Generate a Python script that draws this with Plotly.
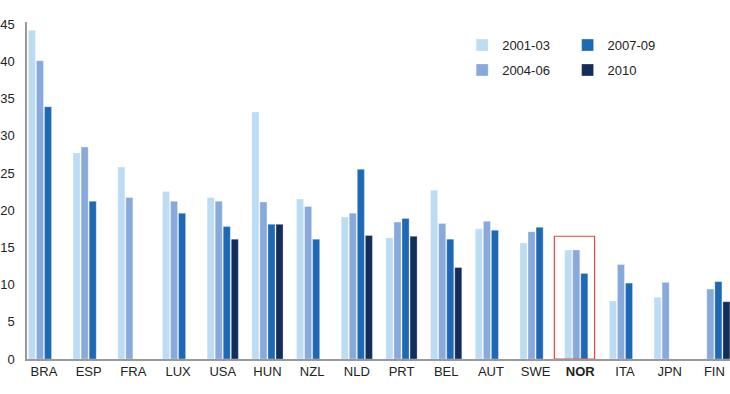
import plotly.graph_objects as go

categories = ["BRA", "ESP", "FRA", "LUX", "USA", "HUN", "NZL", "NLD", "PRT", "BEL",
              "AUT", "SWE", "NOR", "ITA", "JPN", "FIN"]
s2001_03 = [44.2, 27.7, 25.8, 22.5, 21.7, 33.2, 21.5, 19.1, 16.3, 22.7, 17.5, 15.6, 14.65, 7.8, 8.3, None]
s2004_06 = [40.1, 28.5, 21.7, 21.2, 21.2, 21.1, 20.5, 19.6, 18.4, 18.2, 18.5, 17.1, 14.65, 12.7, 10.3, 9.4]
s2007_09 = [33.9, 21.2, None, 19.6, 17.8, 18.1, 16.1, 25.5, 18.9, 16.1, 17.3, 17.7, 11.5, 10.2, None, 10.4]
s2010 = [None, None, None, None, 16.1, 18.1, None, 16.6, 16.5, 12.3, None, None, None, None, None, 7.7]
series_names = ["2001-03", "2004-06", "2007-09", "2010"]
tick_vals = [0, 5, 10, 15, 20, 25, 30, 35, 40, 45]
highlight = "NOR"

colors = ["#bcdcf4", "#88a9db", "#1e69b5", "#142e5c"]
legends = ["legend", "legend", "legend2", "legend2"]

fig = go.Figure()
for name, vals, col, lg in zip(series_names, [s2001_03, s2004_06, s2007_09, s2010], colors, legends):
    fig.add_trace(go.Bar(
        x=categories, y=vals, name=name, legendgroup=name,
        marker=dict(color=col, line=dict(color="rgba(255,255,255,0.6)", width=0.5)),
        legend=lg,
    ))

ticktext = [f"<b>{c}</b>" if c == highlight else c for c in categories]
idx = categories.index(highlight)
fig.add_shape(type="rect", xref="x", yref="y",
              x0=idx - 0.58, x1=idx + 0.32, y0=0, y1=16.5,
              line=dict(color="#e8463a", width=1.2), fillcolor="rgba(0,0,0,0)")

fig.update_layout(
    width=730, height=394,
    margin=dict(l=27, r=0, t=22, b=35),
    paper_bgcolor="white", plot_bgcolor="white",
    barmode="group", bargap=0.28, bargroupgap=0.12,
    font=dict(family="Arial, Liberation Sans, sans-serif", size=13, color="#222222"),
    legend=dict(x=0.619, y=0.976, xanchor="left", yanchor="top", orientation="v",
                font=dict(size=13), itemwidth=30, tracegroupgap=5,
                bgcolor="rgba(0,0,0,0)"),
    legend2=dict(x=0.769, y=0.976, xanchor="left", yanchor="top", orientation="v",
                 font=dict(size=13), itemwidth=30, tracegroupgap=5,
                 bgcolor="rgba(0,0,0,0)"),
    showlegend=True,
)
fig.update_xaxes(
    categoryorder="array", categoryarray=categories,
    tickmode="array", tickvals=categories, ticktext=ticktext,
    range=[-0.38, 15.35], automargin=False,
    showline=True, linecolor="#999999", linewidth=1.5,
    ticks="", showgrid=False, tickfont=dict(size=13, color="#222222"),
)
fig.update_yaxes(
    range=[0, 45.3], tickmode="array", tickvals=tick_vals, automargin=False,
    showline=True, linecolor="#999999", linewidth=1.5,
    showgrid=False, zeroline=False, ticks="",
    ticklabelstandoff=8,
    tickfont=dict(size=13, color="#222222"),
)

fig.write_html("out.html", config={"displayModeBar": False},
               post_script="document.body.style.margin='0px';")
